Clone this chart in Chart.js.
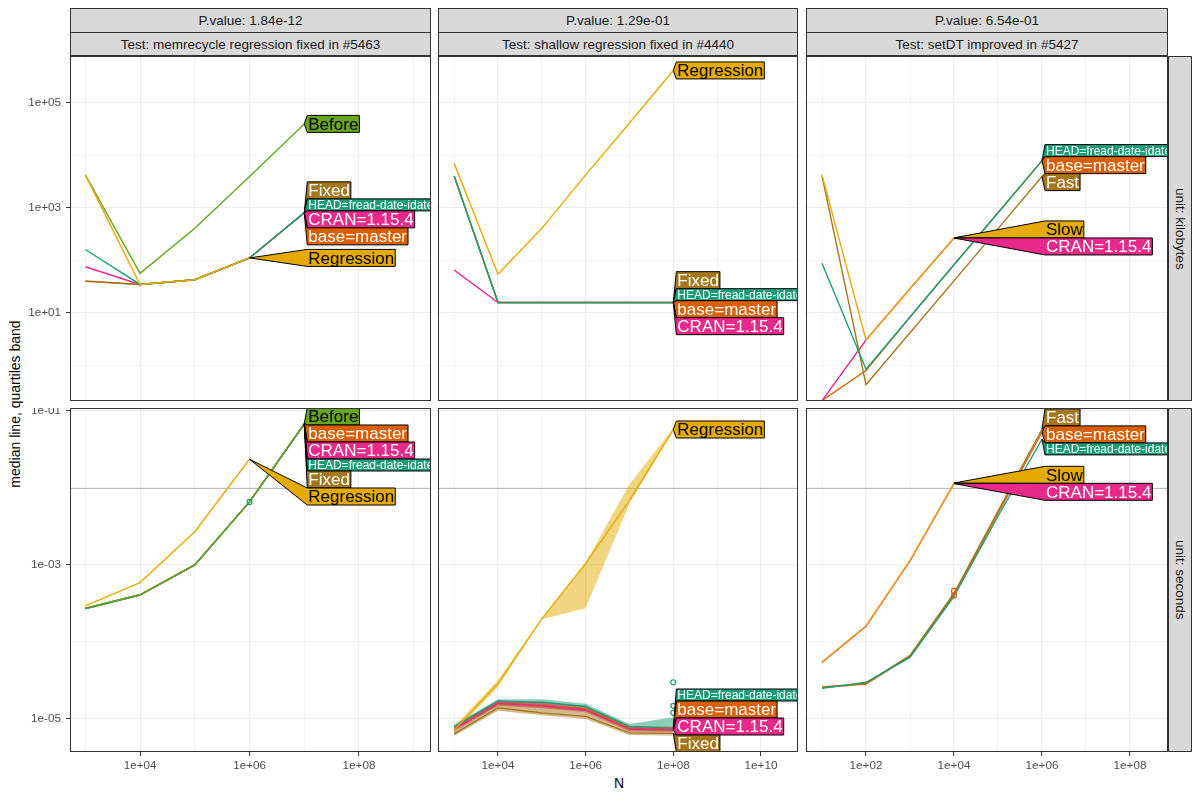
<!DOCTYPE html>
<html>
<head>
<meta charset="utf-8">
<script src="https://cdn.jsdelivr.net/npm/chart.js@4.4.0/dist/chart.umd.min.js"></script>
<style>
  body { margin: 0; background: #fff; font-family: "Liberation Sans", Arial, sans-serif; }
  #wrap { position: relative; width: 1200px; height: 800px; overflow: hidden; background: #fff; }
  .strip { position: absolute; background: #d9d9d9; border: 1px solid #333; box-sizing: border-box;
           font-size: 13.5px; color: #1a1a1a; display: flex; align-items: center; justify-content: center; white-space: nowrap; }
  .vstrip span { writing-mode: vertical-rl; }
  .panel { position: absolute; }
  .title { position: absolute; transform: translate(-50%, -50%); white-space: nowrap; font-size: 14px; color: #000; }
</style>
</head>
<body>
<div id="wrap"></div>
<script>
// N values used by each test
var nMem = [1e3, 1e4, 1e5, 1e6, 1e7];
var nShallow = [1e3, 1e4, 1e5, 1e6, 1e7, 1e8];
var nSetDT = [1e1, 1e2, 1e3, 1e4, 1e5, 1e6];

// memrecycle regression fixed in #5463 -- kilobytes
var memKbBefore = [4270, 57, 410, 4000, 40000];
var memKbRegression = [4270, 35, 43, 112];
var memKbBase = [41, 35, 43, 112, 805];
var memKbCran = [76, 35, 43, 112, 810];
var memKbHead = [162, 35, 43, 112, 815];
var memKbFixed = [40, 35, 43, 112, 818];
// memrecycle -- seconds
var memSecBefore = [2.75e-4, 4.1e-4, 1.0e-3, 6.6e-3, 0.0690];
var memSecRegression = [2.95e-4, 5.9e-4, 2.7e-3, 0.0236];
var memSecBase = [2.72e-4, 4.1e-4, 1.0e-3, 6.6e-3, 0.0685];
var memSecCran = [2.73e-4, 4.1e-4, 1.0e-3, 6.6e-3, 0.0680];
var memSecHead = [2.7e-4, 4.05e-4, 1.0e-3, 6.6e-3, 0.0675];
var memSecFixed = [2.72e-4, 4.1e-4, 1.0e-3, 6.6e-3, 0.0670];
var memSecOutN = [1e6];
var memSecOutY = [6.6e-3];

// shallow regression fixed in #4440 -- kilobytes
var shKbRegression = [7080, 55, 410, 4270, 41700, 417000];
var shKbBase = [4070, 15.8, 15.8, 15.8, 15.8, 15.8];
var shKbCran = [66, 15.75, 15.75, 15.75, 15.75, 15.75];
var shKbHead = [4070, 15.85, 15.85, 15.85, 15.85, 15.85];
var shKbFixed = [4070, 15.9, 15.9, 15.9, 15.9, 15.9];
// shallow -- seconds (median, lower and upper quartile)
var shSecRegression = [7.2e-6, 2.9e-5, 2.0e-4, 1.05e-3, 6.9e-3, 0.0575];
var shSecRegressionLo = [6.6e-6, 2.6e-5, 1.98e-4, 2.75e-4, 6.3e-3, 0.055];
var shSecRegressionHi = [8.0e-6, 3.2e-5, 2.05e-4, 1.08e-3, 0.0112, 0.060];
var shSecBase = [7.6e-6, 1.62e-5, 1.5e-5, 1.35e-5, 7.6e-6, 7.4e-6];
var shSecBaseLo = [7.1e-6, 1.5e-5, 1.4e-5, 1.27e-5, 7.1e-6, 7.0e-6];
var shSecBaseHi = [8.1e-6, 1.75e-5, 1.65e-5, 1.45e-5, 8.1e-6, 8.0e-6];
var shSecCran = [7.4e-6, 1.6e-5, 1.48e-5, 1.3e-5, 7.4e-6, 7.2e-6];
var shSecCranLo = [6.9e-6, 1.48e-5, 1.38e-5, 1.22e-5, 6.9e-6, 6.8e-6];
var shSecCranHi = [7.9e-6, 1.72e-5, 1.6e-5, 1.4e-5, 7.9e-6, 7.8e-6];
var shSecHead = [7.9e-6, 1.7e-5, 1.65e-5, 1.45e-5, 8.0e-6, 7.6e-6];
var shSecHeadLo = [7.3e-6, 1.55e-5, 1.5e-5, 1.35e-5, 7.4e-6, 7.2e-6];
var shSecHeadHi = [8.5e-6, 1.8e-5, 1.8e-5, 1.58e-5, 8.6e-6, 1.05e-5];
var shSecFixed = [6.4e-6, 1.4e-5, 1.2e-5, 1.08e-5, 6.6e-6, 6.5e-6];
var shSecFixedLo = [6.0e-6, 1.28e-5, 1.12e-5, 1.0e-5, 6.2e-6, 6.1e-6];
var shSecFixedHi = [7.0e-6, 1.6e-5, 1.45e-5, 1.3e-5, 7.4e-6, 7.3e-6];
var shSecOutN = [1e8, 1e8, 1e8];
var shSecOutY = [3.0e-5, 1.48e-5, 1.2e-5];

// setDT improved in #5427 -- kilobytes
var sdKbSlow = [4270, 3.06, 29, 270];
var sdKbCran = [0.215, 3.06, 29, 268];
var sdKbBase = [0.215, 0.8, 8.4, 83, 813, 7950];
var sdKbHead = [89, 0.85, 8.4, 83, 813, 8000];
var sdKbFast = [4100, 0.43, 4.2, 41, 405, 3980];
// setDT -- seconds
var sdSecSlow = [5.5e-5, 1.62e-4, 1.15e-3, 0.0116];
var sdSecCran = [5.4e-5, 1.6e-4, 1.13e-3, 0.0114];
var sdSecFast = [2.6e-5, 2.9e-5, 6.7e-5, 4.3e-4, 5.0e-3, 0.058];
var sdSecBase = [2.55e-5, 2.85e-5, 6.5e-5, 4.1e-4, 4.7e-3, 0.053];
var sdSecHead = [2.5e-5, 3.0e-5, 6.3e-5, 3.9e-4, 4.3e-3, 0.043];
var sdSecOutN = [1e4, 1e4];
var sdSecOutY = [4.6e-4, 4.0e-4];

// reference line drawn in the seconds row
var secondsRefLine = 0.01;

// strip texts
var pvalues = ['P.value: 1.84e-12', 'P.value: 1.29e-01', 'P.value: 6.54e-01'];
var tests = ['Test: memrecycle regression fixed in #5463', 'Test: shallow regression fixed in #4440', 'Test: setDT improved in #5427'];
var units = ['unit: kilobytes', 'unit: seconds'];

var labelText = {
  Before: 'Before', Regression: 'Regression', Fixed: 'Fixed', Fast: 'Fast', Slow: 'Slow',
  HEAD: 'HEAD=fread-date-idate', CRAN: 'CRAN=1.15.4', base: 'base=master'
};
var colors = {
  HEAD: '#1B9E77', base: '#D95F02', CRAN: '#E7298A', Before: '#66A61E',
  Regression: '#E6AB02', Slow: '#E6AB02', Fixed: '#A6761D', Fast: '#A6761D'
};
var darkText = { Before: true, Regression: true, Slow: true };

/**
 * layout of the facet grid
 */
var FONT = '"Liberation Sans", Arial, sans-serif';
var cols = [{ l: 70, r: 431 }, { l: 438, r: 798 }, { l: 806, r: 1168 }];
var rows = [{ t: 56, b: 401 }, { t: 408, b: 752 }];
var xRange = [[Math.pow(10, 2.72), Math.pow(10, 9.315)], [Math.pow(10, 2.631), Math.pow(10, 10.844)], [Math.pow(10, 0.636), Math.pow(10, 8.864)]];
var yRange = [[Math.pow(10, -0.676), Math.pow(10, 5.895)], [Math.pow(10, -5.429), Math.pow(10, -0.961)]];

// series listed bottom-most first (drawing order)
var panels = [
  { col: 0, row: 0, n: nMem, series: [['base', memKbBase], ['CRAN', memKbCran], ['Fixed', memKbFixed], ['HEAD', memKbHead], ['Before', memKbBefore], ['Regression', memKbRegression]] },
  { col: 1, row: 0, n: nShallow, series: [['base', shKbBase], ['CRAN', shKbCran], ['Fixed', shKbFixed], ['HEAD', shKbHead], ['Regression', shKbRegression]] },
  { col: 2, row: 0, n: nSetDT, series: [['base', sdKbBase], ['CRAN', sdKbCran], ['Fast', sdKbFast], ['HEAD', sdKbHead], ['Slow', sdKbSlow]] },
  { col: 0, row: 1, n: nMem, series: [['base', memSecBase], ['CRAN', memSecCran], ['Fixed', memSecFixed], ['HEAD', memSecHead], ['Before', memSecBefore], ['Regression', memSecRegression]],
    outN: memSecOutN, outY: memSecOutY, outColor: '#1B9E77' },
  { col: 1, row: 1, n: nShallow, series: [['base', shSecBase], ['CRAN', shSecCran], ['Fixed', shSecFixed], ['HEAD', shSecHead], ['Regression', shSecRegression]],
    bands: [['Fixed', shSecFixedLo, shSecFixedHi], ['CRAN', shSecCranLo, shSecCranHi], ['base', shSecBaseLo, shSecBaseHi], ['HEAD', shSecHeadLo, shSecHeadHi], ['Regression', shSecRegressionLo, shSecRegressionHi]],
    outN: shSecOutN, outY: shSecOutY, outColor: '#1B9E77' },
  { col: 2, row: 1, n: nSetDT, series: [['base', sdSecBase], ['CRAN', sdSecCran], ['Fast', sdSecFast], ['HEAD', sdSecHead], ['Slow', sdSecSlow]],
    outN: sdSecOutN, outY: sdSecOutY, outColor: '#D95F02' }
];

function expOf(v) { return Math.round(Math.log10(v)); }
function sci(v) {
  var e = expOf(v), a = Math.abs(e);
  return '1e' + (e < 0 ? '-' : '+') + (a < 10 ? '0' + a : '' + a);
}
function decadeTicks(scale) {
  var out = [];
  for (var e = Math.ceil(Math.log10(scale.min) - 1e-9); e <= Math.floor(Math.log10(scale.max) + 1e-9); e++) {
    out.push({ value: Math.pow(10, e) });
  }
  scale.ticks = out;
}
function pts(n, y) { return y.map(function (v, i) { return { x: n[i], y: v }; }); }
function alpha(hex, a) {
  var r = parseInt(hex.substr(1, 2), 16), g = parseInt(hex.substr(3, 2), 16), b = parseInt(hex.substr(5, 2), 16);
  return 'rgba(' + r + ',' + g + ',' + b + ',' + a + ')';
}

var wrap = document.getElementById('wrap');

function addDiv(cls, css, html) {
  var d = document.createElement('div');
  d.className = cls;
  d.style.cssText = css;
  d.innerHTML = html;
  wrap.appendChild(d);
  return d;
}

// strips
cols.forEach(function (c, i) {
  addDiv('strip', 'left:' + c.l + 'px;top:8px;width:' + (c.r - c.l) + 'px;height:25px;', pvalues[i]);
  addDiv('strip', 'left:' + c.l + 'px;top:32px;width:' + (c.r - c.l) + 'px;height:24px;', tests[i]);
});
rows.forEach(function (r, i) {
  addDiv('strip vstrip', 'left:1168px;top:' + r.t + 'px;width:24px;height:' + (r.b - r.t) + 'px;', '<span>' + units[i] + '</span>');
});
addDiv('title', 'left:619px;top:783px;', 'N');
addDiv('title', 'left:15px;top:404px;transform:translate(-50%,-50%) rotate(-90deg);', 'median line, quartiles band');

function makePanel(p) {
  var col = cols[p.col], row = rows[p.row];
  var leftW = p.col === 0 ? 70 : 0;
  var botH = p.row === 1 ? 26 : 0;
  var W = col.r - col.l + leftW, H = row.b - row.t + botH;
  var div = document.createElement('div');
  div.className = 'panel';
  div.style.left = (col.l - leftW) + 'px';
  div.style.top = row.t + 'px';
  div.style.width = W + 'px';
  div.style.height = H + 'px';
  var cv = document.createElement('canvas');
  cv.width = W; cv.height = H;
  div.appendChild(cv);
  wrap.appendChild(div);

  // Chart.js paints dataset 0 last, so put top-most marks first
  var datasets = [];
  if (p.outN) {
    datasets.push({ data: pts(p.outN, p.outY), showLine: false, pointRadius: 2.5, pointBorderWidth: 1.2,
      pointBorderColor: p.outColor, pointBackgroundColor: 'rgba(0,0,0,0)', borderColor: p.outColor });
  }
  p.series.slice().reverse().forEach(function (s) {
    datasets.push({ data: pts(p.n, s[1]), borderColor: colors[s[0]], borderWidth: 1.4, pointRadius: 0, fill: false, tension: 0 });
  });
  (p.bands || []).forEach(function (b) {
    datasets.push({ data: pts(p.n, b[1]), borderWidth: 0, pointRadius: 0, fill: false, borderColor: 'rgba(0,0,0,0)' });
    datasets.push({ data: pts(p.n, b[2]), borderWidth: 0, pointRadius: 0, fill: '-1', borderColor: 'rgba(0,0,0,0)', backgroundColor: alpha(colors[b[0]], 0.5) });
  });

  var maxN = Math.max.apply(null, p.n);

  var deco = {
    id: 'deco' + p.col + p.row,
    beforeDatasetsDraw: function (chart) {
      if (p.row !== 1) return;
      var ctx = chart.ctx, a = chart.chartArea;
      var y = Math.round(chart.scales.y.getPixelForValue(secondsRefLine)) + 0.5;
      ctx.save();
      ctx.strokeStyle = '#bdbdbd';
      ctx.lineWidth = 1.2;
      ctx.beginPath(); ctx.moveTo(a.left, y); ctx.lineTo(a.right, y); ctx.stroke();
      ctx.restore();
    },
    afterDatasetsDraw: function (chart) {
      var ctx = chart.ctx, a = chart.chartArea, xs = chart.scales.x, ys = chart.scales.y;
      var boxLeft = xs.getPixelForValue(maxN) + 3;
      var items = p.series.map(function (s) {
        var last = s[1].length - 1;
        var fs = s[0] === 'HEAD' ? 12 : 17;
        ctx.font = fs + 'px ' + FONT;
        return { name: s[0], ax: xs.getPixelForValue(p.n[last]), ay: ys.getPixelForValue(s[1][last]),
                 h: fs, fs: fs, w: ctx.measureText(labelText[s[0]]).width + 2 };
      });
      items.sort(function (u, v) { return u.ay - v.ay; });

      // stack labels so they do not overlap
      function place(b) {
        var off = 0, sum = 0;
        b.items.forEach(function (it) { sum += it.ay - off - it.h / 2; off += it.h; });
        b.top = sum / b.items.length;
        b.top = Math.max(a.top, Math.min(a.bottom - b.h, b.top));
      }
      var blocks = [];
      items.forEach(function (it) {
        var nb = { items: [it], h: it.h };
        place(nb);
        blocks.push(nb);
        while (blocks.length > 1) {
          var b2 = blocks[blocks.length - 1], b1 = blocks[blocks.length - 2];
          if (b1.top + b1.h <= b2.top + 0.01) break;
          b1.items = b1.items.concat(b2.items);
          b1.h += b2.h;
          blocks.pop();
          place(b1);
        }
      });

      ctx.save();
      ctx.beginPath();
      ctx.rect(a.left, a.top, a.right - a.left, a.bottom - a.top);
      ctx.clip();
      blocks.forEach(function (b) {
        var top = b.top;
        b.items.forEach(function (it) {
          var t = top, bt = top + it.h, r = boxLeft + it.w;
          ctx.beginPath();
          ctx.moveTo(it.ax, it.ay);
          ctx.lineTo(boxLeft, t);
          ctx.lineTo(r, t);
          ctx.lineTo(r, bt);
          ctx.lineTo(boxLeft, bt);
          ctx.closePath();
          ctx.fillStyle = colors[it.name];
          ctx.fill();
          ctx.strokeStyle = '#000';
          ctx.lineWidth = 1;
          ctx.stroke();
          ctx.font = it.fs + 'px ' + FONT;
          ctx.fillStyle = darkText[it.name] ? '#000' : '#fff';
          ctx.textAlign = 'left';
          ctx.textBaseline = 'middle';
          ctx.fillText(labelText[it.name], boxLeft + 1, t + it.h / 2 + 1);
          top += it.h;
        });
      });
      ctx.restore();

      // panel border
      ctx.save();
      ctx.strokeStyle = '#333';
      ctx.lineWidth = 1;
      ctx.strokeRect(a.left + 0.5, a.top + 0.5, a.right - a.left - 1, a.bottom - a.top - 1);
      ctx.restore();
    }
  };

  function gridWidth(isMajor) {
    return function (c) { return isMajor(c.tick.value) ? 1.1 : 0.55; };
  }
  var xMajor = function (v) { return expOf(v) % 2 === 0; };
  var yMajor = function (v) { return Math.abs(expOf(v)) % 2 === 1; };

  new Chart(cv, {
    type: 'line',
    data: { datasets: datasets },
    plugins: [deco],
    options: {
      responsive: false,
      animation: false,
      layout: { padding: 0, autoPadding: false },
      plugins: { legend: { display: false }, tooltip: { enabled: false }, title: { display: false } },
      scales: {
        x: {
          type: 'logarithmic', position: 'bottom', bounds: 'data',
          min: xRange[p.col][0], max: xRange[p.col][1],
          afterBuildTicks: decadeTicks,
          afterFit: function (s) { s.height = botH; s.paddingLeft = 0; s.paddingRight = 0; },
          border: { display: false },
          grid: {
            color: '#ebebeb', lineWidth: gridWidth(xMajor), drawTicks: p.row === 1, tickLength: 4, tickWidth: 1,
            tickColor: function (c) { return xMajor(c.tick.value) ? '#333' : 'rgba(0,0,0,0)'; }
          },
          ticks: {
            display: p.row === 1, autoSkip: false, maxRotation: 0, padding: 3, color: '#4d4d4d',
            font: { size: 11.7, family: FONT },
            callback: function (v) { return xMajor(v) ? sci(v) : ''; }
          }
        },
        y: {
          type: 'logarithmic', position: 'left', bounds: 'data',
          min: yRange[p.row][0], max: yRange[p.row][1],
          afterBuildTicks: decadeTicks,
          afterFit: function (s) { s.width = leftW; s.paddingTop = 0; s.paddingBottom = 0; },
          border: { display: false },
          grid: {
            color: '#ebebeb', lineWidth: gridWidth(yMajor), drawTicks: p.col === 0, tickLength: 4, tickWidth: 1,
            tickColor: function (c) { return yMajor(c.tick.value) ? '#333' : 'rgba(0,0,0,0)'; }
          },
          ticks: {
            display: p.col === 0, autoSkip: false, padding: 5, color: '#4d4d4d',
            font: { size: 11.7, family: FONT },
            callback: function (v) { return yMajor(v) ? sci(v) : ''; }
          }
        }
      }
    }
  });
}

panels.forEach(makePanel);
</script>
</body>
</html>
